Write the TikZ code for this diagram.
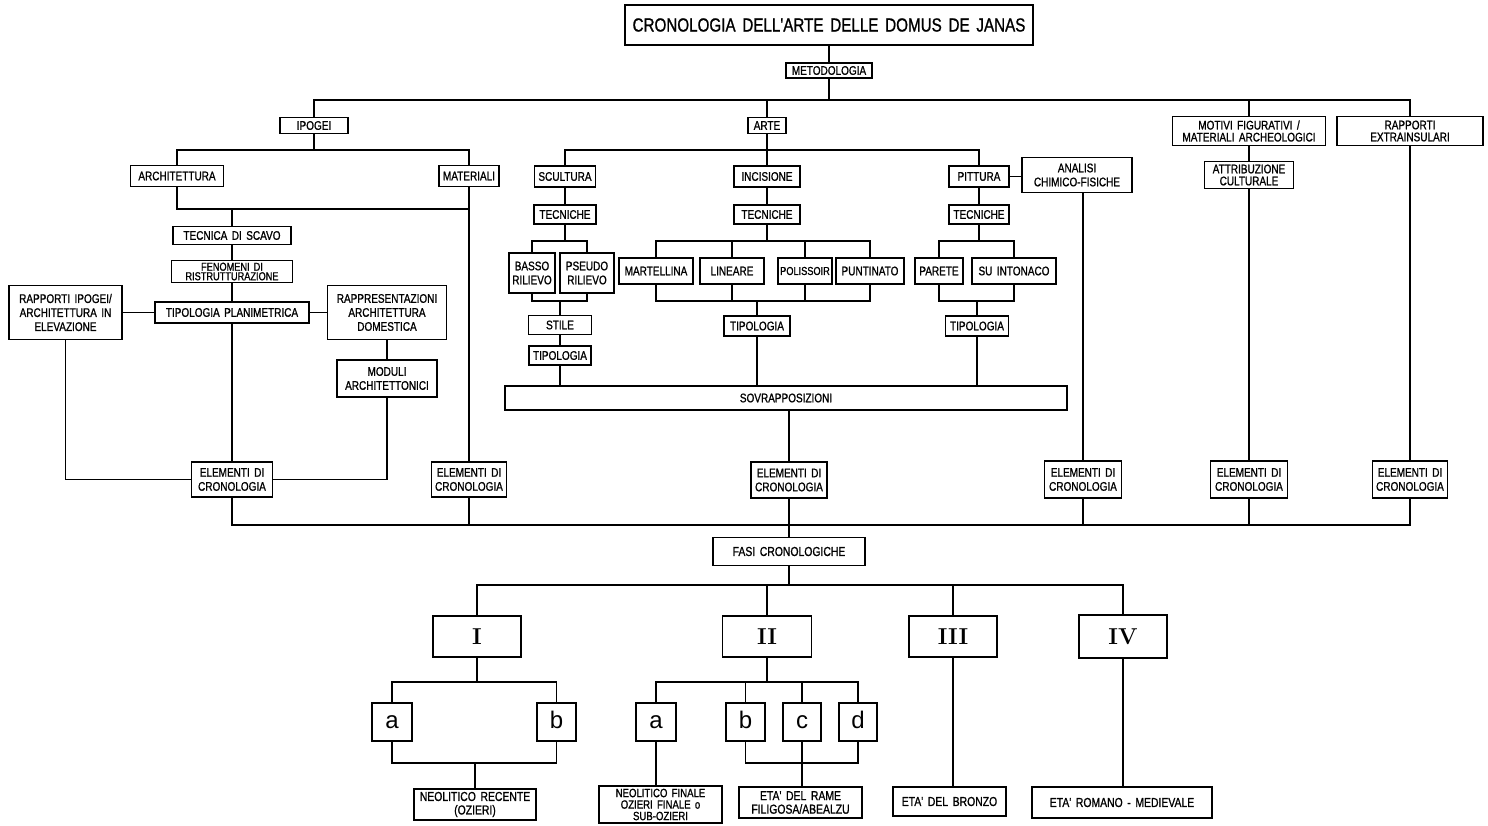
\documentclass[tikz,border=0pt]{standalone}
\usepackage{fontspec}
\newfontfamily\cadfont[FakeStretch=0.8,WordSpace=1.6,FakeBold=1]{Liberation Sans}
\newfontfamily\letterfont{Liberation Sans}

\begin{document}
\begin{tikzpicture}[
    x=1pt, y=-1pt,
    box/.style={draw, line width=1.5pt, inner sep=1pt, align=center,
                font=\cadfont\fontsize{12.5}{12}\selectfont},
    loose/.style={font=\cadfont\fontsize{12.5}{14}\selectfont},
    big/.style={font=\cadfont\fontsize{13}{13.5}\selectfont},
    roman/.style={font=\rmfamily\bfseries\fontsize{23}{23}\selectfont},
    letter/.style={font=\letterfont\fontsize{24}{24}\selectfont, text height=13pt, text depth=0pt},
    wh/.style 2 args={minimum width=#1, minimum height=#2},
    link/.style={line width=1.5pt}
  ]
\fill[white] (0,0) rectangle (1488,825);
\useasboundingbox (0,0) rectangle (1488,825);

\coordinate (bus1) at (0,100);
\coordinate (busA) at (0,150);
\coordinate (jA) at (0,209);
\coordinate (jS) at (0,241);
\coordinate (jT) at (0,301);
\coordinate (bus3) at (0,525);
\coordinate (bus4) at (0,585);
\coordinate (jU) at (0,682);
\coordinate (jL) at (0,763);

% head
\node[box, wh={408}{40}, font=\cadfont\fontsize{19}{19}\selectfont] (title) at (829,25) {CRONOLOGIA DELL'ARTE DELLE DOMUS DE JANAS};
\node[box, wh={86}{15}] (meto) at (829,70.5) {METODOLOGIA};
\node[box, wh={68}{16}] (ipogei) at (314,125.5) {IPOGEI};
\node[box, wh={38}{16}] (arte) at (767,125.5) {ARTE};
\node[box, wh={153}{29}] (motivi) at (1249,131) {MOTIVI FIGURATIVI /\\MATERIALI ARCHEOLOGICI};
\node[box, wh={146}{29}] (extra) at (1410,131) {RAPPORTI\\EXTRAINSULARI};

% second row
\node[box, wh={93}{21}] (archi) at (177,176) {ARCHITETTURA};
\node[box, wh={60}{21}] (mater) at (469,176) {MATERIALI};
\node[box, wh={61}{21}] (scult) at (565,176.5) {SCULTURA};
\node[box, wh={66}{21}] (incis) at (767,176.5) {INCISIONE};
\node[box, wh={60}{21}] (pitt) at (979,176.5) {PITTURA};
\node[box, loose, wh={110}{35}] (analisi) at (1077,175) {ANALISI\\CHIMICO-FISICHE};
\node[box, wh={89}{27}] (attrib) at (1249,175) {ATTRIBUZIONE\\CULTURALE};

% ipogei
\node[box, wh={118}{18}] (scavo) at (232,235.5) {TECNICA DI SCAVO};
\node[box, wh={121}{22}, font=\cadfont\fontsize{11.5}{9.5}\selectfont] (fenom) at (232,271.5) {FENOMENI DI\\RISTRUTTURAZIONE};
\node[box, wh={154}{21}] (tipo) at (232,312.5) {TIPOLOGIA PLANIMETRICA};
\node[box, loose, wh={113}{54}] (rappip) at (65.5,312.5) {RAPPORTI IPOGEI/\\ARCHITETTURA IN\\ELEVAZIONE};
\node[box, loose, wh={119}{54}] (rappr) at (387,312.5) {RAPPRESENTAZIONI\\ARCHITETTURA\\DOMESTICA};
\node[box, loose, wh={100}{37}] (moduli) at (387,378.5) {MODULI\\ARCHITETTONICI};

% arte
\node[box, wh={62}{19}] (tecS) at (565,214.5) {TECNICHE};
\node[box, wh={66}{19}] (tecI) at (767,214.5) {TECNICHE};
\node[box, wh={60}{19}] (tecP) at (979,214.5) {TECNICHE};
\node[box, loose, wh={46}{40}] (basso) at (532,273) {BASSO\\RILIEVO};
\node[box, loose, wh={54}{40}] (pseudo) at (587,273) {PSEUDO\\RILIEVO};
\node[box, wh={74}{26}] (mart) at (656,271) {MARTELLINA};
\node[box, wh={64}{26}] (lin) at (732,271) {LINEARE};
\node[box, wh={54}{26}, font=\cadfont\fontsize{11.5}{12}\selectfont] (pol) at (805,271) {POLISSOIR};
\node[box, wh={68}{26}] (punt) at (870,271) {PUNTINATO};
\node[box, wh={48}{26}] (parete) at (939,271) {PARETE};
\node[box, wh={84}{26}] (suint) at (1014,271) {SU INTONACO};
\node[box, wh={63}{19}] (stile) at (560,325) {STILE};
\node[box, wh={62}{19}] (tipS) at (560,355.5) {TIPOLOGIA};
\node[box, wh={66}{20}] (tipI) at (757,326) {TIPOLOGIA};
\node[box, wh={63}{20}] (tipP) at (977,326) {TIPOLOGIA};
\node[box, wh={562}{24}] (sovr) at (786,398) {SOVRAPPOSIZIONI};

% elementi di cronologia
\node[box, loose, wh={81}{35}] (elemA) at (232,479.5) {ELEMENTI DI\\CRONOLOGIA};
\node[box, loose, wh={75}{35}] (elemB) at (469,479.5) {ELEMENTI DI\\CRONOLOGIA};
\node[box, loose, wh={76}{36}] (elemC) at (789,480) {ELEMENTI DI\\CRONOLOGIA};
\node[box, loose, wh={77}{37}] (elemD) at (1083,479.5) {ELEMENTI DI\\CRONOLOGIA};
\node[box, loose, wh={77}{37}] (elemE) at (1249,479.5) {ELEMENTI DI\\CRONOLOGIA};
\node[box, loose, wh={75}{37}] (elemF) at (1410,479.5) {ELEMENTI DI\\CRONOLOGIA};

% fasi
\node[box, big, wh={152}{28}] (fasi) at (789,551.5) {FASI CRONOLOGICHE};
\node[box, roman, wh={88}{41}] (rI) at (477,636.5) {I};
\node[box, roman, wh={89}{41}] (rII) at (767,636.5) {II};
\node[box, roman, wh={88}{41}] (rIII) at (953,636.5) {III};
\node[box, roman, wh={88}{43}] (rIV) at (1123,636.5) {IV};
\node[box, letter, wh={40}{38}] (aI) at (392,722) {a};
\node[box, letter, wh={39}{38}] (bI) at (556.5,722) {b};
\node[box, letter, wh={40}{38}] (aII) at (656,722) {a};
\node[box, letter, wh={39}{38}] (bII) at (745.5,722) {b};
\node[box, letter, wh={38}{38}] (cII) at (802,722) {c};
\node[box, letter, wh={38}{38}] (dII) at (858,722) {d};
\node[box, big, wh={122}{31}] (neorec) at (475,804.5) {NEOLITICO RECENTE\\(OZIERI)};
\node[box, wh={123}{37}, font=\cadfont\fontsize{12}{11.5}\selectfont] (neofin) at (660.5,804.5) {NEOLITICO FINALE\\OZIERI FINALE o\\SUB-OZIERI};
\node[box, big, wh={123}{31}] (rame) at (800.5,802.5) {ETA' DEL RAME\\FILIGOSA/ABEALZU};
\node[box, big, wh={113}{29}] (bronzo) at (949.5,801.5) {ETA' DEL BRONZO};
\node[box, big, wh={180}{31}] (romano) at (1122,802.5) {ETA' ROMANO - MEDIEVALE};

% connectors: head
\draw[link] (title) -- (meto);
\draw[link] (meto) -- (meto |- bus1);
\draw[link] (ipogei) -- (ipogei |- bus1) -- (extra |- bus1) -- (extra);
\foreach \n in {arte,motivi} \draw[link] (\n) -- (\n |- bus1);

% connectors: ipogei
\draw[link] (ipogei) -- (ipogei |- busA);
\draw[link] (archi) -- (archi |- busA) -- (mater |- busA) -- (mater);
\draw[link] (archi) -- (archi |- jA) -- (mater |- jA);
\draw[link] (mater) -- (elemB);
\draw[link] (scavo) -- (scavo |- jA);
\draw[link] (scavo) -- (fenom);
\draw[link] (fenom) -- (tipo);
\draw[link] (tipo) -- (elemA);
\draw[link] (rappip) -- (tipo) -- (rappr);
\draw[link] (rappr) -- (moduli);
\draw[link] (rappip) |- (elemA);
\draw[link] (moduli) |- (elemA);

% connectors: arte
\draw[link] (arte) -- (incis);
\draw[link] (scult) -- (scult |- busA) -- (pitt |- busA) -- (pitt);
\draw[link] (pitt) -- (pitt -| analisi.west);
\foreach \a/\b in {scult/tecS, incis/tecI, pitt/tecP, stile/tipS}
  \draw[link] (\a) -- (\b);
\foreach \t/\l/\r in {tecS/basso/pseudo, tecI/mart/punt, tecP/parete/suint} {
  \draw[link] (\t) -- (\t |- jS);
  \draw[link] (\l) -- (\l |- jS) -- (\r |- jS) -- (\r);
  \draw[link] (\l) -- (\l |- jT) -- (\r |- jT) -- (\r);
}
\foreach \n in {lin,pol} {
  \draw[link] (\n) -- (\n |- jS);
  \draw[link] (\n) -- (\n |- jT);
}
\foreach \n in {stile,tipI,tipP} \draw[link] (\n) -- (\n |- jT);
\foreach \n in {tipS,tipI,tipP} \draw[link] (\n) -- (\n |- sovr.north);
\draw[link] (sovr.south -| elemC) -- (elemC);
\draw[link] (elemD |- analisi.south) -- (elemD);
\draw[link] (motivi) -- (attrib) -- (elemE);
\draw[link] (extra) -- (elemF);

% connectors: to the phases
\draw[link] (elemA) -- (elemA |- bus3) -- (elemF |- bus3) -- (elemF);
\foreach \n in {elemB,elemD,elemE} \draw[link] (\n) -- (\n |- bus3);
\draw[link] (elemC) -- (fasi);
\draw[link] (fasi) -- (fasi |- bus4);
\draw[link] (rI) -- (rI |- bus4) -- (rIV |- bus4) -- (rIV);
\foreach \n in {rII,rIII} \draw[link] (\n) -- (\n |- bus4);
\draw[link] (rI) -- (rI |- jU);
\draw[link] (aI) -- (aI |- jU) -- (bI |- jU) -- (bI);
\draw[link] (aI) -- (aI |- jL) -- (bI |- jL) -- (bI);
\draw[link] (neorec) -- (neorec |- jL);
\draw[link] (rII) -- (rII |- jU);
\draw[link] (aII) -- (aII |- jU) -- (dII |- jU) -- (dII);
\foreach \n in {bII,cII} \draw[link] (\n) -- (\n |- jU);
\draw[link] (bII) -- (bII |- jL) -- (dII |- jL) -- (dII);
\draw[link] (cII) -- (cII |- rame.north);
\draw[link] (aII) -- (aII |- neofin.north);
\draw[link] (rIII) -- (rIII |- bronzo.north);
\draw[link] (rIV) -- (rIV |- romano.north);
\end{tikzpicture}
\end{document}
